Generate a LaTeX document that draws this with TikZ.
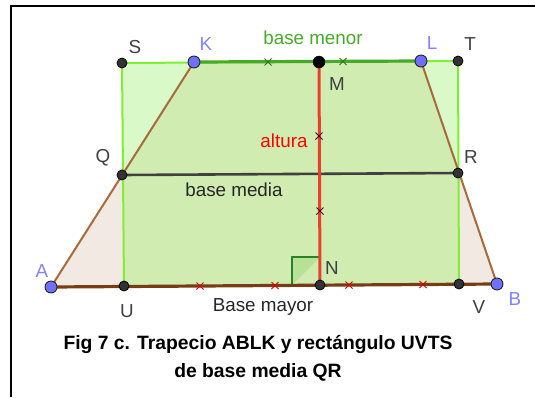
\documentclass[tikz,border=0pt]{standalone}
\usepackage{fontspec}
\setmainfont{Liberation Sans}
\begin{document}
\begin{tikzpicture}[x=1pt,y=-1pt,
  dotk/.style={circle,fill=black!80,draw=black,line width=0.8pt,inner sep=0pt,minimum size=10pt},
  dotm/.style={circle,fill=black,draw=black,inner sep=0pt,minimum size=12pt},
  dotb/.style={circle,fill=blueA,draw=black!85,line width=0.9pt,inner sep=0pt,minimum size=12pt},
  lab/.style={font=\fontsize{18.8}{22}\selectfont,text=black!75,inner sep=0pt},
  labb/.style={font=\fontsize{18.8}{22}\selectfont,text=blueL,inner sep=0pt},
  xmark/.pic={\draw[line width=1pt] (-3.5,-3.5)--(3.5,3.5) (-3.5,3.5)--(3.5,-3.5);}
]
\definecolor{blueA}{RGB}{112,112,255}
\definecolor{blueL}{RGB}{130,130,255}
\definecolor{rectfill}{RGB}{218,249,200}
\definecolor{interfill}{RGB}{208,236,176}
\definecolor{trapfill}{RGB}{242,233,226}
\definecolor{rectedge}{RGB}{125,240,50}
\definecolor{topedge}{RGB}{70,170,40}
\definecolor{legcol}{RGB}{168,106,60}
\definecolor{basecol}{RGB}{120,60,20}
\definecolor{redh}{RGB}{232,64,44}
\definecolor{sqcol}{RGB}{40,130,40}
\definecolor{sqfill}{RGB}{185,225,150}
\useasboundingbox (0,0) rectangle (535,397);
% frame
\draw[line width=2.2pt] (11,397) -- (11,6) -- (535,6);
% coordinates
\coordinate (s) at (122,63);
\coordinate (k) at (194,62);
\coordinate (m) at (319,62);
\coordinate (l) at (421,61);
\coordinate (t) at (458,61);
\coordinate (q) at (122,175);
\coordinate (r) at (458,173);
\coordinate (a) at (51,287);
\coordinate (u) at (124,286);
\coordinate (n) at (320,285);
\coordinate (v) at (459,284);
\coordinate (b) at (497,284);
% fills
\fill[trapfill] (a) -- (b) -- (l) -- (k) -- cycle;
\fill[rectfill] (u) -- (v) -- (t) -- (s) -- cycle;
\begin{scope}
  \clip (u) -- (v) -- (t) -- (s) -- cycle;
  \fill[interfill] (a) -- (b) -- (l) -- (k) -- cycle;
\end{scope}
% right angle square
\draw[sqcol,fill=sqfill,line width=1.8pt] (292,285) -- (292,257) -- (320,257);
% rectangle edges
\draw[rectedge,line width=2pt] (u) -- (s) -- (t) -- (v);
% legs
\draw[legcol,line width=2pt] (a) -- (k) (b) -- (l);
% bases
\draw[basecol,line width=3.2pt] (a) -- (b);
\draw[topedge,line width=3.2pt] (k) -- (l);
\draw[black!75,line width=2.6pt] (q) -- (r);
\draw[redh,line width=3pt] (m) -- (n);
% ticks
\draw[red!85!black] (200,286) pic{xmark} (275,285.5) pic{xmark} (349,285) pic{xmark} (423,284.5) pic{xmark};
\draw[topedge!70!black] (268,62) pic{xmark} (343,61.5) pic{xmark};
\draw[black!70!red] (319,136) pic{xmark} (320,211) pic{xmark};
% points
\node[dotk] (S) at (s) {};
\node[dotb] (K) at (k) {};
\node[dotm] (M) at (m) {};
\node[dotb] (L) at (l) {};
\node[dotk] (T) at (t) {};
\node[dotk] (Q) at (q) {};
\node[dotk] (R) at (r) {};
\node[dotb] (A) at (a) {};
\node[dotk] (U) at (u) {};
\node[dotk] (N) at (n) {};
\node[dotk] (V) at (v) {};
\node[dotb] (B) at (b) {};
% labels
\node[lab] (lS) at (135,47) {S};
\node[labb] (lK) at (206,44) {K};
\node[lab,text=topedge] (lbm) at (313,38) {base menor};
\node[labb] (lL) at (432,43) {L};
\node[lab] (lT) at (470,44) {T};
\node[lab] (lM) at (337,84) {M};
\node[lab,text=red] (lalt) at (284,141) {altura};
\node[lab] (lQ) at (103,158) {Q};
\node[lab] (lR) at (471,157) {R};
\node[lab,text=black!85] (lbmed) at (234,190) {base media};
\node[labb] (lA) at (42,271) {A};
\node[lab] (lN) at (332,268) {N};
\node[lab] (lU) at (127,311) {U};
\node[lab,text=black!85] (lBM) at (263,307) {Base mayor};
\node[lab] (lV) at (479,307) {V};
\node[labb] (lB) at (515,299) {B};
% caption
\node[font=\fontsize{19.3}{23}\bfseries\selectfont,inner sep=0pt] (cap1) at (258,344) {Fig 7 c. Trapecio ABLK y rectángulo UVTS};
\node[font=\fontsize{19.3}{23}\bfseries\selectfont,inner sep=0pt] (cap2) at (258,372) {de base media QR};
\end{tikzpicture}
\end{document}
